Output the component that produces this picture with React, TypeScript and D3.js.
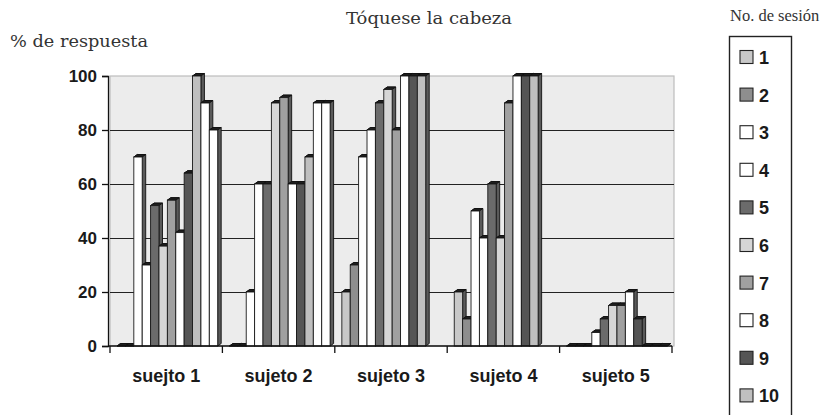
import React, { useEffect, useRef } from 'react';
import * as d3 from 'd3';

// Categories, sessions and values
const subjects = ['suejto 1', 'sujeto 2', 'sujeto 3', 'sujeto 4', 'sujeto 5'];
const sessions = ['1', '2', '3', '4', '5', '6', '7', '8', '9', '10', '11', '12'];
const s1 = [0, 0, 20, 20, 0];
const s2 = [0, 0, 30, 10, 0];
const s3 = [70, 20, 70, 50, 0];
const s4 = [30, 60, 80, 40, 5];
const s5 = [52, 60, 90, 60, 10];
const s6 = [37, 90, 95, 40, 15];
const s7 = [54, 92, 80, 90, 15];
const s8 = [42, 60, 100, 100, 20];
const s9 = [64, 60, 100, 100, 10];
const s10 = [100, 70, 100, 100, 0];
const s11 = [90, 90, null, null, 0];
const s12 = [80, 90, null, null, 0];
const yTicks = [0, 20, 40, 60, 80, 100];

const seriesValues: (number | null)[][] = [s1, s2, s3, s4, s5, s6, s7, s8, s9, s10, s11, s12];
const seriesColors = ['#c8c8c8', '#8e8e8e', '#ffffff', '#ffffff', '#6b6b6b', '#d6d6d6',
  '#a0a0a0', '#ffffff', '#555555', '#bfbfbf', '#ffffff', '#ffffff'];
// only the first ten legend entries fit in the visible frame
const legendKeys = sessions.slice(0, 10);

// Layout
const W = 822;
const H = 415;
const plot = { left: 110, right: 672, top: 76, bottom: 346 };
const depthX = 3.5;
const depthY = 2.5;

function App() {
  const ref = useRef<SVGSVGElement>(null);

  useEffect(() => {
    const svg = d3.select(ref.current).html('');

    const x0 = d3.scaleBand<string>().domain(subjects).range([plot.left, plot.right]);
    const x1 = d3.scaleBand<string>().domain(sessions).range([0, x0.bandwidth()])
      .paddingOuter(0.7).align(0.6);
    const y = d3.scaleLinear().domain([0, 100]).range([plot.bottom, plot.top]);

    // Plot background
    svg.append('rect')
      .attr('x', plot.left).attr('y', plot.top)
      .attr('width', plot.right - plot.left + 2).attr('height', plot.bottom - plot.top)
      .attr('fill', '#ececec').attr('stroke', '#bdbdbd').attr('stroke-width', 1.2);

    // Gridlines
    svg.append('g').selectAll('line')
      .data(yTicks.filter((t) => t > 0 && t < 100))
      .enter().append('line')
      .attr('x1', plot.left).attr('x2', plot.right + 2)
      .attr('y1', (d) => Math.round(y(d)) + 0.5).attr('y2', (d) => Math.round(y(d)) + 0.5)
      .attr('stroke', '#222').attr('stroke-width', 1.2);

    // Bars (pseudo 3D)
    const data = subjects.flatMap((s, i) =>
      sessions.map((k, j) => ({ subject: s, key: k, idx: j, value: seriesValues[j][i] })))
      .filter((d) => d.value !== null);

    const bars = svg.append('g').selectAll('g.bar')
      .data(data)
      .enter().append('g').attr('class', 'bar');

    bars.append('polygon')
      .attr('points', (d) => {
        const bx = (x0(d.subject) as number) + (x1(d.key) as number);
        const bw = x1.bandwidth();
        const ty = y(d.value as number);
        return [
          [bx, ty], [bx + depthX, ty - depthY], [bx + bw + depthX, ty - depthY],
          [bx + bw + depthX, plot.bottom - depthY], [bx + bw, plot.bottom], [bx + bw, ty],
        ].map((p) => p.join(',')).join(' ');
      })
      .attr('fill', '#5a5a5a').attr('stroke', '#111').attr('stroke-width', 0.9);

    bars.append('polygon')
      .attr('points', (d) => {
        const bx = (x0(d.subject) as number) + (x1(d.key) as number);
        const bw = x1.bandwidth();
        const ty = y(d.value as number);
        return [[bx, ty], [bx + depthX, ty - depthY], [bx + bw + depthX, ty - depthY], [bx + bw, ty]]
          .map((p) => p.join(',')).join(' ');
      })
      .attr('fill', '#1e1e1e').attr('stroke', '#111').attr('stroke-width', 0.9);

    bars.append('rect')
      .attr('x', (d) => (x0(d.subject) as number) + (x1(d.key) as number))
      .attr('y', (d) => y(d.value as number))
      .attr('width', x1.bandwidth())
      .attr('height', (d) => plot.bottom - y(d.value as number))
      .attr('fill', (d) => seriesColors[d.idx])
      .attr('stroke', '#1a1a1a').attr('stroke-width', 0.9);

    // Y axis
    const yAxis = svg.append('g')
      .attr('transform', `translate(${plot.left - 2},0)`)
      .call(d3.axisLeft(y).tickValues(yTicks).tickSize(6).tickPadding(5));
    yAxis.select('.domain').attr('stroke', '#111').attr('stroke-width', 1.3);
    yAxis.selectAll('line').attr('stroke', '#111').attr('stroke-width', 1.3);
    yAxis.selectAll('text')
      .attr('font-family', 'Liberation Sans, Arial, sans-serif')
      .attr('font-weight', 'bold').attr('font-size', 17).attr('fill', '#1a1a1a');

    // X axis
    const xAxisG = svg.append('g').attr('transform', `translate(0,${plot.bottom})`);
    xAxisG.append('line')
      .attr('x1', plot.left - 2).attr('x2', plot.right)
      .attr('stroke', '#111').attr('stroke-width', 1.3);
    const bounds = subjects.map((s) => x0(s) as number).concat([plot.right]);
    xAxisG.selectAll('line.tick')
      .data(bounds)
      .enter().append('line').attr('class', 'tick')
      .attr('x1', (d) => d).attr('x2', (d) => d)
      .attr('y1', 0).attr('y2', 7)
      .attr('stroke', '#111').attr('stroke-width', 1.3);
    xAxisG.selectAll('text')
      .data(subjects)
      .enter().append('text')
      .attr('x', (d) => (x0(d) as number) + x0.bandwidth() / 2)
      .attr('y', 36)
      .attr('text-anchor', 'middle')
      .attr('font-family', 'Liberation Sans, Arial, sans-serif')
      .attr('font-weight', 'bold').attr('font-size', 18).attr('fill', '#1a1a1a')
      .text((d) => d);

    // Titles
    const serif = 'DejaVu Serif, Liberation Serif, serif';
    svg.append('text').attr('x', 346).attr('y', 24)
      .attr('font-family', serif).attr('font-size', 17).attr('fill', '#333')
      .attr('textLength', 166).attr('lengthAdjust', 'spacingAndGlyphs')
      .text('Tóquese la cabeza');
    svg.append('text').attr('x', 10).attr('y', 47)
      .attr('font-family', serif).attr('font-size', 17).attr('fill', '#333')
      .attr('textLength', 138).attr('lengthAdjust', 'spacingAndGlyphs')
      .text('% de respuesta');
    svg.append('text').attr('x', 730).attr('y', 21)
      .attr('font-family', 'Liberation Serif, serif').attr('font-size', 16.5).attr('fill', '#333')
      .text('No. de sesión');

    // Legend
    const legend = svg.append('g');
    legend.append('rect')
      .attr('x', 729.5).attr('y', 36.5).attr('width', 62).attr('height', 400)
      .attr('fill', '#fff').attr('stroke', '#222').attr('stroke-width', 1.4);
    const ly = d3.scalePoint<string>().domain(legendKeys).range([57, 57 + 37.6 * 9]);
    const items = legend.selectAll('g.item')
      .data(legendKeys)
      .enter().append('g').attr('class', 'item')
      .attr('transform', (d) => `translate(740,${ly(d)})`);
    items.append('rect')
      .attr('x', 0).attr('y', -6.5).attr('width', 13).attr('height', 13)
      .attr('fill', (d, i) => seriesColors[i]).attr('stroke', '#222').attr('stroke-width', 1.1);
    items.append('text')
      .attr('x', 19).attr('y', 7)
      .attr('font-family', 'Liberation Sans, Arial, sans-serif')
      .attr('font-weight', 'bold').attr('font-size', 18).attr('fill', '#1a1a1a')
      .text((d) => d);
  }, []);

  return (
    <svg ref={ref} width={W} height={H}
      style={{ position: 'absolute', left: 0, top: 0, background: '#fff' }} />
  );
}

export default App;
